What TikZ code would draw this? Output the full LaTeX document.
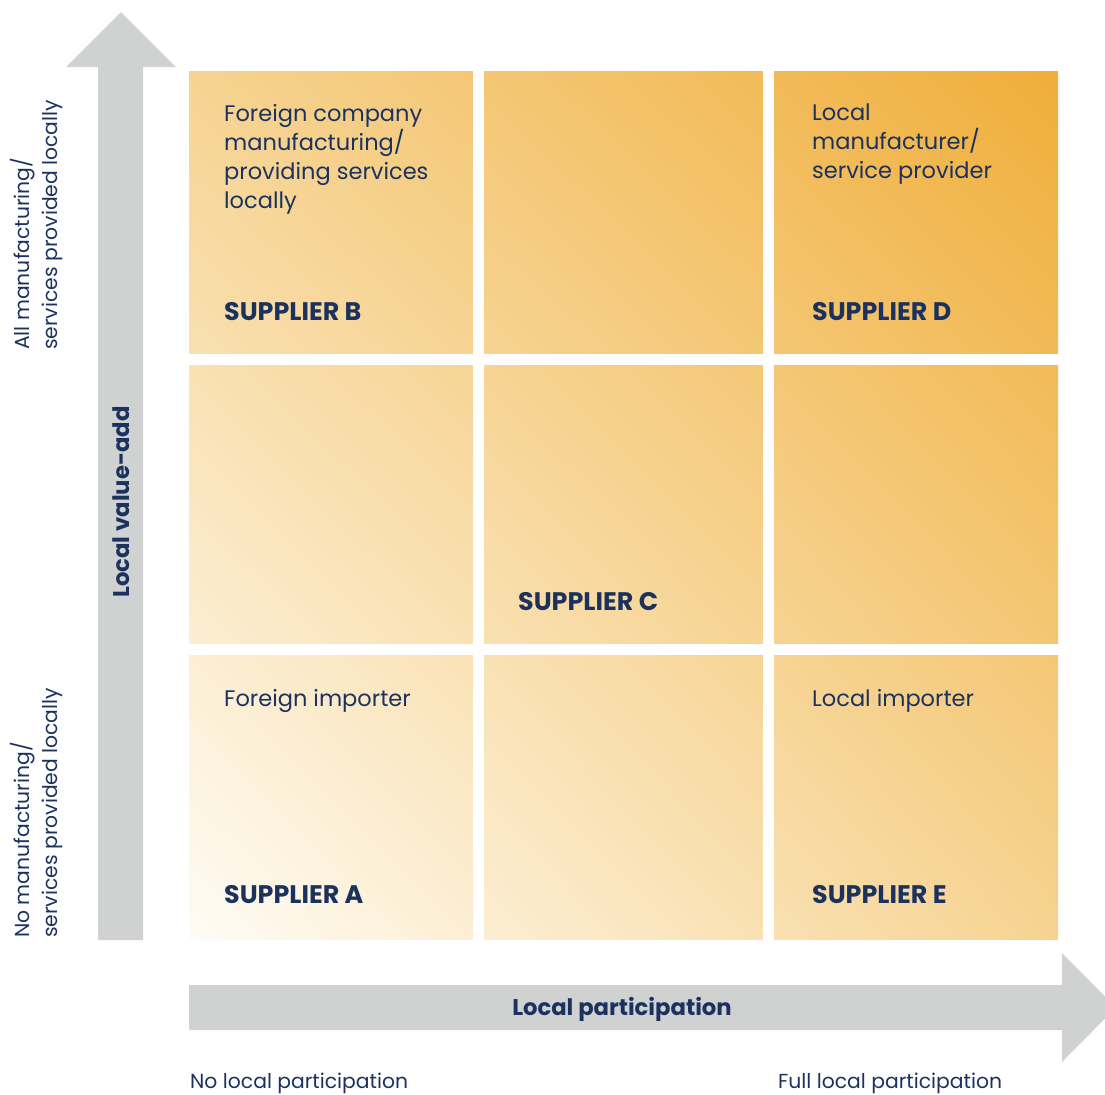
\documentclass[tikz,border=0pt]{standalone}
\usepackage{fontspec}
\setmainfont{Poppins}
\usepackage{tikz}
\usetikzlibrary{positioning,shadings}
\definecolor{navy}{RGB}{27,50,95}
\definecolor{axisgray}{RGB}{208,209,209}
\definecolor{paleorange}{RGB}{255,252,245}
\definecolor{midorange}{RGB}{246,211,145}
\definecolor{deeporange}{RGB}{240,174,58}
\tikzset{
    celltext/.style={
        anchor=north west,
        inner sep=0pt,
        align=left,
        text=navy,
        font=\fontsize{22.6}{29}\selectfont
    },
    supplier/.style={
        anchor=base west,
        inner sep=0pt,
        text=navy,
        font=\fontsize{25.5}{29}\selectfont\bfseries
    },
    axistext/.style={
        inner sep=0pt,
        text=navy,
        font=\fontsize{20.4}{28}\selectfont
    },
    axistitle/.style={
        inner sep=0pt,
        text=navy,
        font=\fontsize{22.8}{28}\selectfont\bfseries
    },
    arrowbody/.style={fill=axisgray, draw=none}
}

\begin{document}
\begin{tikzpicture}[x=1bp,y=-1bp]
        \useasboundingbox (0,0) rectangle (1105,1095);

        % Griglia: un'unica sfumatura, poi le separazioni bianche
        \shade[lower left=paleorange, upper right=deeporange,
               upper left=midorange, lower right=midorange]
            (189,71) rectangle (1058,939);
        \foreach \xa/\xb in {473/484, 763/774}
            \fill[white] (\xa,65) rectangle (\xb,945); % separazioni verticali
        \foreach \ya/\yb in {354/365, 644/655}
            \fill[white] (183,\ya) rectangle (1064,\yb); % separazioni orizzontali

        % Frecce degli assi
        \fill[arrowbody] (98,940) -- (98,67) -- (66,67) -- (121,12)
            -- (176,67) -- (143,67) -- (143,940) -- cycle; % freccia verso l'alto
        \fill[arrowbody] (189,985) -- (1062,985) -- (1062,953) -- (1116,1007.5)
            -- (1062,1062) -- (1062,1030) -- (189,1030) -- cycle; % freccia verso destra

        % Titoli degli assi
        \node[axistitle, rotate=90] (valueadd) at (121,502) {Local value-add};
        \node[axistitle] (participation) at (622,1009) {Local participation};

        % Estremi degli assi
        \node[axistext, rotate=90, anchor=north west, align=left] (alllocal) at (10,350)
            {All manufacturing/\\services provided locally};
        \node[axistext, rotate=90, anchor=north west, align=left] (nolocal) at (10,938)
            {No manufacturing/\\services provided locally};
        \node[axistext, anchor=base west] (noparticip) at (190,1088) {No local participation};
        \node[axistext, anchor=base west] (fullparticip) at (778,1088) {Full local participation};

        % Descrizioni delle celle
        \node[celltext] (foreigncomp) at (224,104)
            {Foreign company\\manufacturing/\\providing services\\locally};
        \node[celltext] (localmanuf) at (812,104)
            {Local\\manufacturer/\\service provider};
        \node[celltext] (foreignimp) at (224,689) {Foreign importer};
        \node[celltext] (localimp) at (812,689) {Local importer};

        % Fornitori
        \node[supplier] (supB) at (224,320) {SUPPLIER B};
        \node[supplier] (supD) at (812,320) {SUPPLIER D};
        \node[supplier] (supC) at (518,610) {SUPPLIER C};
        \node[supplier] (supA) at (224,903) {SUPPLIER A};
        \node[supplier] (supE) at (812,903) {SUPPLIER E};

    \end{tikzpicture}
\end{document}
